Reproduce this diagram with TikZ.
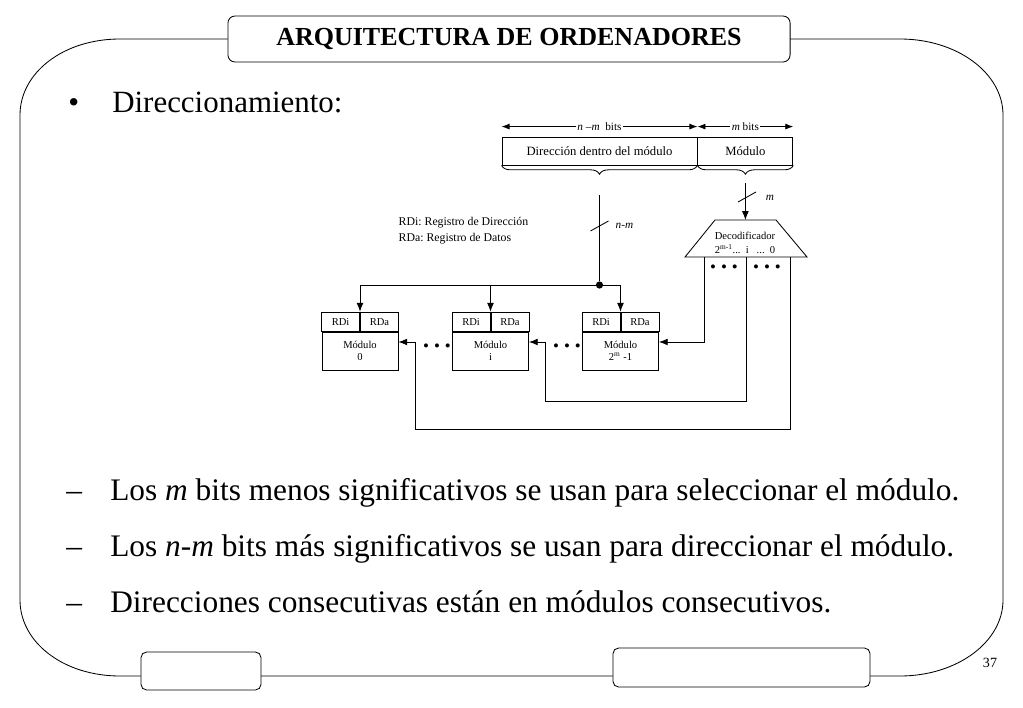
\documentclass[tikz,border=0pt]{standalone}
\usepackage{fontspec}
\setmainfont{Liberation Serif}
\frenchspacing
\usetikzlibrary{positioning,arrows.meta,decorations.pathreplacing}
\tikzset{
  frame/.style={line width=0.6pt},
  wire/.style={line width=0.6pt},
  arr/.style={wire,-{Latex[length=2.2mm,width=1.7mm]}},
  dimarr/.style={wire,{Latex[length=2mm,width=1.5mm]}-{Latex[length=2mm,width=1.5mm]}},
  titlebox/.style={draw,fill=white,rounded corners=5pt,line width=0.6pt,
                   minimum width=14.05cm,minimum height=1.15cm,
                   font=\fontsize{18.5}{20}\selectfont\bfseries},
  footbox/.style={draw,fill=white,rounded corners=4pt,line width=0.6pt,inner sep=0pt},
  field/.style={draw,line width=0.6pt,minimum height=0.7cm,inner sep=0pt,
                font=\fontsize{9}{10}\selectfont},
  reg/.style={draw,line width=0.6pt,minimum width=0.95cm,minimum height=0.475cm,
              inner sep=0pt,font=\fontsize{7.5}{8}\selectfont},
  modbody/.style={draw,line width=0.6pt,minimum width=1.9cm,minimum height=0.95cm,
                  inner sep=0pt,align=center,font=\fontsize{7.5}{9}\selectfont},
  lab/.style={font=\fontsize{8}{9}\selectfont,inner sep=1pt},
  small/.style={font=\fontsize{7.5}{8}\selectfont,inner sep=0pt},
  dots/.style={font=\fontsize{12}{12}\selectfont,inner sep=0pt},
  junction/.style={circle,fill,inner sep=0pt,minimum size=1.8mm},
  bigtext/.style={font=\fontsize{22}{26}\selectfont,anchor=base west,inner sep=0pt},
  body/.style={font=\fontsize{22.3}{26}\selectfont,anchor=base west,inner sep=0pt}
}

\begin{document}
\begin{tikzpicture}[x=0.025cm,y=-0.025cm]
  \useasboundingbox (0,0) rectangle (1023,708);
  \draw[frame] (120,39) -- (900,39) .. controls (957,39) and (1003,73) .. (1003,115)
    -- (1003,600) .. controls (1003,642) and (957,676) .. (900,676)
    -- (120,676) .. controls (63,676) and (20,642) .. (20,600)
    -- (20,115) .. controls (20,73) and (63,39) .. (120,39) -- cycle;
  \node[titlebox] (title) at (509,39) {ARQUITECTURA DE ORDENADORES};
  \node[footbox,minimum width=3cm,minimum height=0.95cm] (footl) at (201,671) {};
  \node[footbox,minimum width=6.425cm,minimum height=0.975cm] (footr) at (741.5,667.5) {};
  \node[font=\fontsize{10}{12}\selectfont] (page) at (990,663) {37};

  \node[bigtext] (bul) at (68,113) {•};
  \node[bigtext] (head) at (112,113) {Direccionamiento:};

  \node[field,minimum width=4.875cm] (dir) at (599.5,151) {Dirección dentro del módulo};
  \node[field,minimum width=2.375cm,right=0pt of dir] (mod) {Módulo};
  \draw[dimarr] ([yshift=0.25cm]dir.north west) -- ([yshift=0.25cm]dir.north east)
    node[lab,midway,fill=white] {\textit{n} –\textit{m}\ \ bits};
  \draw[dimarr] ([yshift=0.25cm]mod.north west) -- ([yshift=0.25cm]mod.north east)
    node[lab,midway,fill=white] {\textit{m} bits};
  \draw[wire,decorate,decoration={brace,mirror,amplitude=0.22cm}] (dir.south west) -- (dir.south east);
  \draw[wire,decorate,decoration={brace,mirror,amplitude=0.22cm}] (mod.south west) -- (mod.south east);
  \coordinate (dirtip) at ([yshift=-0.75cm]dir.south);
  \coordinate (modtip) at ([yshift=-0.45cm]mod.south);

  \node[lab,anchor=west,align=left,font=\fontsize{8.4}{11.4}\selectfont] (legend) at (397,231)
    {RDi: Registro de Dirección\\RDa: Registro de Datos};

  \coordinate (dectl) at (715,220);
  \coordinate (dectr) at (776,220);
  \coordinate (decbr) at (807,257);
  \coordinate (decbl) at (685,257);
  \draw[wire] (dectl) -- (dectr) -- (decbr) -- (decbl) -- cycle;
  \node[small] (declab) at (745,236) {Decodificador};
  \node[small] (decidx) at (745,249) {2\textsuperscript{m-1}...\ \ i\ \ \ ...\ \ 0};
  \coordinate (decin) at (modtip |- dectl);
  \draw[arr] (modtip) -- (decin);
  \draw[wire] (747,197) ++(-9,5) -- ++(18,-10);
  \node[lab] (mlab) at (770,198) {\textit{m}};

  \node[modbody] (m0) at (360,351) {Módulo\\0};
  \node[reg,anchor=south east] (m0di) at (m0.north) {RDi};
  \node[reg,anchor=south west] (m0da) at (m0.north) {RDa};
  \node[modbody] (m1) at (490.5,351) {Módulo\\i};
  \node[reg,anchor=south east] (m1di) at (m1.north) {RDi};
  \node[reg,anchor=south west] (m1da) at (m1.north) {RDa};
  \node[modbody] (m2) at (620.5,351) {Módulo\\2\textsuperscript{m} -1};
  \node[reg,anchor=south east] (m2di) at (m2.north) {RDi};
  \node[reg,anchor=south west] (m2da) at (m2.north) {RDa};
  \node[dots] (dm1) at (437,348) {•\hspace{3.5pt}•\hspace{3.5pt}•};
  \node[dots] (dm2) at (567,348) {•\hspace{3.5pt}•\hspace{3.5pt}•};

  \node[junction] (jn) at (dirtip |- 0,285) {};
  \draw[wire] (dirtip) -- (jn);
  \draw[wire] (599.5,226) ++(-9,5) -- ++(18,-10);
  \node[lab,anchor=west] (nmlab) at (614,226) {\textit{n-m}};
  \draw[arr] (jn.center) -| (m2di.north east);
  \draw[arr] (jn.center) -| (m1di.north east);
  \draw[arr] (jn.center) -| (m0di.north east);

  \coordinate (o2) at (704,257);
  \coordinate (o1) at (746,257);
  \coordinate (o0) at (790,257);
  \node[dots] (dd1) at (724,269) {•\hspace{3.5pt}•\hspace{3.5pt}•};
  \node[dots] (dd2) at (767,269) {•\hspace{3.5pt}•\hspace{3.5pt}•};
  \draw[arr] (o2) |- ([yshift=0.225cm]m2.east);
  \draw[arr] (o1) |- (545,401) |- ([yshift=0.225cm]m1.east);
  \draw[arr] (o0) |- (415,429) |- ([yshift=0.225cm]m0.east);

  \node[body] (d1) at (66,500) {–};
  \node[body] (t1) at (110,500) {Los \textit{m} bits menos significativos se usan para seleccionar el módulo.};
  \node[body] (d2) at (66,556) {–};
  \node[body] (t2) at (110,556) {Los \textit{n-m} bits más significativos se usan para direccionar el módulo.};
  \node[body] (d3) at (66,612) {–};
  \node[body] (t3) at (110,612) {Direcciones consecutivas están en módulos consecutivos.};
\end{tikzpicture}
\end{document}
